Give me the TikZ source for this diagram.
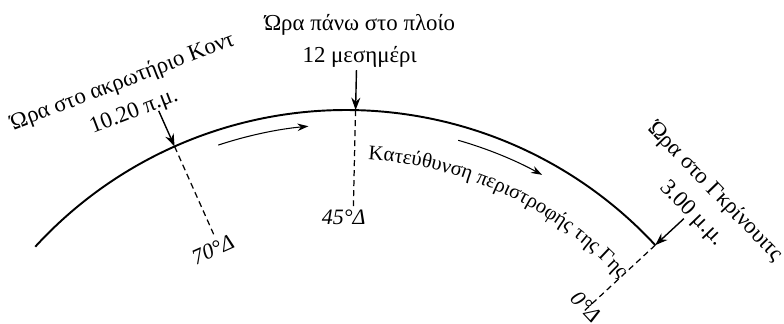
\documentclass[tikz,border=0pt]{standalone}
\usepackage{fontspec}
\setmainfont{Liberation Serif}
\usetikzlibrary{arrows.meta,calc,decorations.text}

\begin{document}
\begin{tikzpicture}[
  earth/.style={line width=1.1pt},
  meridian/.style={dash pattern=on 3.4pt off 2.3pt,line width=0.7pt},
  ptr/.style={-{Stealth[length=2.5mm,width=1.8mm]},line width=0.8pt},
  spin/.style={-{Stealth[length=2.2mm,width=1.5mm]},line width=0.6pt},
  timelbl/.style={align=center,inner sep=0pt,font=\fontsize{13}{18}\selectfont},
  lonlbl/.style={inner sep=0pt,font=\fontsize{12.5}{14}\selectfont\itshape}]
  \useasboundingbox (0,0) rectangle (15.68,6.46);
  \coordinate (c) at (6.92,-4.17);
  % surface of the earth
  \coordinate (west) at ($(c)+(137.5:8.43)$);
  \draw[earth] (west) arc[start angle=137.5,end angle=42.8,radius=8.43] coordinate (east);
  % points on the surface
  \coordinate (p70) at ($(c)+(114:8.43)$);
  \coordinate (p45) at ($(c)+(88.7:8.43)$);
  \coordinate (p0) at (east);
  % meridians
  \coordinate (m70) at ($(c)+(114:6.48)$);
  \coordinate (m45) at ($(c)+(88.7:6.48)$);
  \coordinate (m0) at ($(c)+(42.8:6.48)$);
  \draw[meridian] (p70) -- (m70);
  \draw[meridian] (p45) -- (m45);
  \draw[meridian] (p0) -- (m0);
  \node[lonlbl,rotate=24] (l70) at ($(c)+(115.3:6.23)$) {70°Δ};
  \node[lonlbl] (l45) at ($(c)+(90.4:6.29)$) {45°Δ};
  \node[lonlbl,rotate=-47] (l0) at ($(c)+(43.1:6.58)$) {0°Δ};
  % local times
  \node[timelbl,rotate=21] (t70) at ($(c)+(116.6:9.72)$) {Ώρα στο ακρωτήριο Κοντ\\10.20 π.μ.};
  \node[timelbl] (t45) at ($(c)+(88.4:9.82)$) {Ώρα πάνω στο πλοίο\\12 μεσημέρι};
  \node[timelbl,rotate=-46] (t0) at ($(c)+(42.6:9.72)$) {Ώρα στο Γκρίνουιτς\\3.00 μ.μ.};
  \coordinate (a70) at ($(c)+(114:9.21)$);
  \coordinate (a45) at ($(c)+(88.7:9.23)$);
  \coordinate (a0) at ($(c)+(42.8:9.21)$);
  \draw[ptr] (a70) -- (p70);
  \draw[ptr] (a45) -- (p45);
  \draw[ptr] (a0) -- (p0);
  % direction of rotation
  \coordinate (r1) at ($(c)+(108.3:8.14)$);
  \coordinate (r3) at ($(c)+(74:8.14)$);
  \draw[spin] (r1) arc[start angle=108.3,end angle=95.3,radius=8.14] coordinate (r2);
  \draw[spin] (r3) arc[start angle=74,end angle=61.2,radius=8.14] coordinate (r4);
  \path[decorate,decoration={text along path,text align=left,
    text={|\fontsize{11.8}{13}\selectfont|Κατεύθυνση περιστροφής της Γης}}]
    ($(c)+(86.6:7.45)$) arc[start angle=86.6,end angle=40,radius=7.45];
\end{tikzpicture}
\end{document}
